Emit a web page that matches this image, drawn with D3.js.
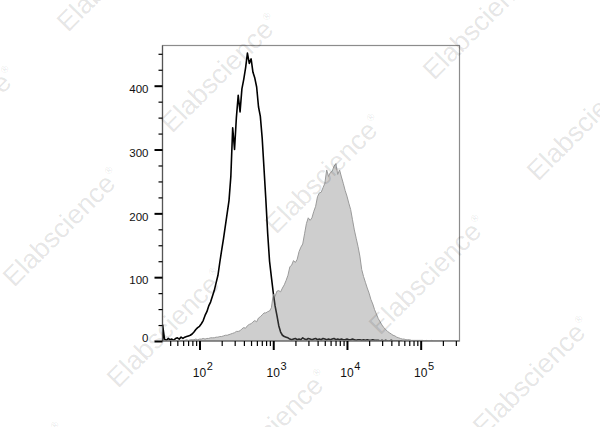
<!DOCTYPE html>
<html><head><meta charset="utf-8">
<script src="https://cdn.jsdelivr.net/npm/d3@7/dist/d3.min.js"></script>
<style>body{margin:0;background:#fff}svg{display:block}</style>
</head><body><svg id="c" width="600" height="427"></svg>
<script>
// Histogram bins (log10 of fluorescence intensity), regular bins in log space
const binStartLog = 1.50;
const binWidthLog = 0.025;
// Black outline: isotype / unstained control
const controlCounts = [25,3,1,4,2,3,1,4,5,3,
 6,4,6,7,8,9,11,14,18,21,
 23,27,32,40,46,55,61,70,79,91,
 103,123,142,160,180,200,220,258,334,300,
 350,385,359,395,410,428,451,435,442,421,
 412,398,367,352,318,270,221,168,125,100,
 76,55,40,24,14,9,7,6,5,3,
 2,3,4,2,3,2,5,3,2,4,
 3,2,3,4,2,3,2,4,3,2,
 3,2,3,4,2,3,2,3,2,2,
 3,2,2,3,2,1,2,2,1,2,
 1,2,1,1,2,1,1,1,0,1,
 0,1,0,0,1,0,0,0,0,0,0];
// Gray filled: stained sample
const stainedCounts = [0,0,0,0,0,0,0,0,1,0,
 1,1,1,2,1,2,2,2,3,2,
 3,3,4,3,4,4,5,5,5,6,
 6,7,7,8,9,9,10,11,12,13,
 15,15,16,19,21,20,24,26,27,30,
 32,30,36,38,41,44,44,46,47,52,
 73,70,78,79,77,83,88,95,103,116,
 119,126,123,128,140,147,152,168,184,193,
 189,193,203,211,226,232,233,240,247,268,
 258,264,266,274,278,261,268,257,247,236,
 227,216,206,190,174,161,148,133,112,101,
 92,83,75,65,58,49,42,35,30,25,
 21,18,15,13,11,9,8,6,5,4,
 3,3,2,2,2,1,1,1,1,1,
 1,1,0,1,0,0,1,0,0,0,
 0,0,0,0,0,0,0,0,0,0,0,0];
const yTickLabels = [0,100,200,300,400];
const yMinorStep = 25;
const yMinorMax = 450;
const xTickExponents = [2,3,4,5];
const xDomainLog = [1.498, 5.5265];
const yDomain = [0, 463];
const watermarkText = "Elabscience";

const svg = d3.select("#c");
const L = 162.5, R = 459.5, T = 45.5, B = 341;
const FONT = "'Liberation Sans', Arial, Helvetica, sans-serif";

const x = d3.scaleLog().domain(xDomainLog.map(v => Math.pow(10, v))).range([L, R]);
const y = d3.scaleLinear().domain(yDomain).range([B, T]);

const binValue = i => Math.pow(10, binStartLog + i * binWidthLog);

svg.append("defs").append("clipPath").attr("id", "plotclip")
  .append("rect").attr("x", L).attr("y", T).attr("width", R - L).attr("height", B - T);

// frame
svg.append("rect").attr("x", L).attr("y", T).attr("width", R - L).attr("height", B - T)
  .attr("fill", "none").attr("stroke", "#8c8c8c").attr("stroke-width", 1.2);

const plot = svg.append("g").attr("clip-path", "url(#plotclip)");

// control line
const ctrlPts = controlCounts.map((c, i) => [x(binValue(i)), y(c)]);
ctrlPts.unshift([x(binValue(0)), y(0)]);
plot.append("path").attr("d", d3.line()(ctrlPts))
  .attr("fill", "none").attr("stroke", "#000").attr("stroke-width", 1.6)
  .attr("stroke-linejoin", "round");

// stained filled area
const area = d3.area()
  .x((d, i) => x(binValue(i)))
  .y0(y(0))
  .y1(d => y(d));
plot.append("path").datum(stainedCounts).attr("d", area)
  .attr("fill", "rgb(120,120,120)").attr("fill-opacity", 0.36)
  .attr("stroke", "#9a9a9a").attr("stroke-width", 1);

// left axis line
svg.append("line").attr("x1", L).attr("x2", L).attr("y1", T).attr("y2", B)
  .attr("stroke", "#555").attr("stroke-width", 1.2);
svg.append("line").attr("x1", L).attr("x2", R).attr("y1", B).attr("y2", B)
  .attr("stroke", "#666").attr("stroke-width", 1.2);

// Y axis
const yMinor = d3.range(0, yMinorMax + 1, yMinorStep).filter(v => !yTickLabels.includes(v));
const gyMin = svg.append("g").attr("transform", `translate(${L},0)`)
  .call(d3.axisLeft(y).tickValues(yMinor).tickSize(4).tickFormat(""));
gyMin.select(".domain").remove();
gyMin.selectAll("line").attr("stroke", "#000").attr("stroke-width", 1.2);

const gyMaj = svg.append("g").attr("transform", `translate(${L},0)`)
  .call(d3.axisLeft(y).tickValues(yTickLabels).tickSize(8).tickPadding(6).tickFormat(d3.format("d")));
gyMaj.select(".domain").remove();
gyMaj.selectAll("line").attr("stroke", "#000").attr("stroke-width", 2);
gyMaj.selectAll("text").attr("font-family", FONT).attr("font-size", 11.5).attr("fill", "#111")
  .attr("dy", d => d === 0 ? "0.0em" : "0.58em");

// X axis
const xMajor = xTickExponents.map(e => Math.pow(10, e));
const xMinor = [];
for (let e = 1; e <= 5; e++) for (let m = 2; m <= 9; m++) {
  const v = m * Math.pow(10, e);
  if (v >= x.domain()[0] && v <= x.domain()[1]) xMinor.push(v);
}
const gxMin = svg.append("g").attr("transform", `translate(0,${B})`)
  .call(d3.axisBottom(x).tickValues(xMinor).tickSize(5).tickFormat(""));
gxMin.select(".domain").remove();
gxMin.selectAll("line").attr("stroke", "#000").attr("stroke-width", 1.2);

const gxMaj = svg.append("g").attr("transform", `translate(0,${B})`)
  .call(d3.axisBottom(x).tickValues(xMajor).tickSize(9).tickFormat(""));
gxMaj.select(".domain").remove();
gxMaj.selectAll("line").attr("stroke", "#000").attr("stroke-width", 2);

const labels = svg.append("g").attr("font-family", FONT).attr("fill", "#111");
xTickExponents.forEach(e => {
  const cx = x(Math.pow(10, e));
  labels.append("text").attr("x", cx).attr("y", 376.5).attr("text-anchor", "middle")
    .attr("font-size", 12).text("10");
  labels.append("text").attr("x", cx + 7.2).attr("y", 369.5).attr("text-anchor", "start")
    .attr("font-size", 11).text(String(e));
});

// watermarks
const wm = svg.append("g").attr("font-family", FONT).attr("fill", "#000").attr("fill-opacity", 0.11)
  .attr("pointer-events", "none");
const origin = [276, 235], va = [104, 101], vb = [262, -53];
for (let i = -5; i <= 5; i++) for (let j = -4; j <= 4; j++) {
  const px = origin[0] + i * va[0] + j * vb[0];
  const py = origin[1] + i * va[1] + j * vb[1];
  if (px < -180 || px > 620 || py < -20 || py > 560) continue;
  const t = wm.append("text").attr("transform", `translate(${px},${py}) rotate(-45)`)
    .attr("font-size", 27);
  t.append("tspan").text(watermarkText);
  t.append("tspan").attr("font-size", 10).attr("dy", -13).attr("dx", 1).text("®");
}
</script></body></html>
